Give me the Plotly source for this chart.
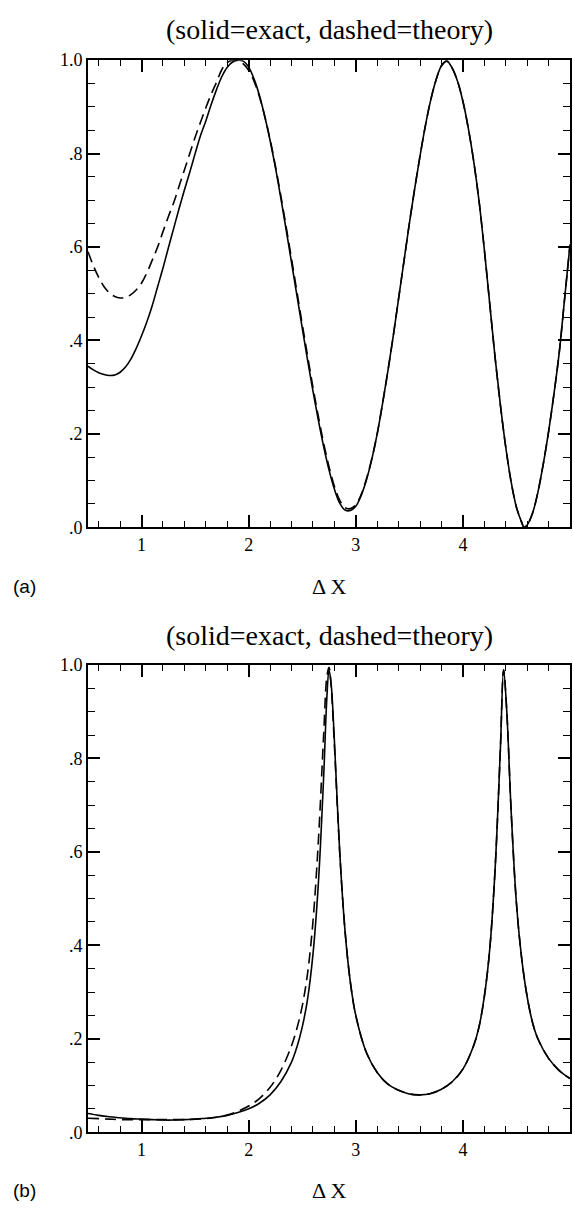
import plotly.graph_objects as go

# ---------------- panel (a) ----------------
xa_exact = [0.50, 0.55, 0.60, 0.65, 0.70, 0.75, 0.80, 0.85, 0.90, 0.95,
            1.00, 1.05, 1.10, 1.15, 1.20, 1.25, 1.30, 1.35, 1.40, 1.45,
            1.50, 1.55, 1.60, 1.65, 1.70, 1.75, 1.80, 1.85, 1.90, 1.95,
            2.00, 2.05, 2.10, 2.15, 2.20, 2.25, 2.30, 2.35, 2.40, 2.45,
            2.50, 2.55, 2.60, 2.65, 2.70, 2.75, 2.80, 2.85, 2.90, 2.95,
            3.00, 3.05, 3.10, 3.15, 3.20, 3.25, 3.30, 3.35, 3.40, 3.45,
            3.50, 3.55, 3.60, 3.65, 3.70, 3.75, 3.80, 3.85, 3.90, 3.95,
            4.00, 4.05, 4.10, 4.15, 4.20, 4.25, 4.30, 4.35, 4.40, 4.45,
            4.50, 4.55, 4.57, 4.60, 4.65, 4.70, 4.75, 4.80, 4.85, 4.90,
            4.95, 5.00]
ya_exact = [0.345, 0.337, 0.331, 0.327, 0.325, 0.326, 0.332, 0.343, 0.360, 0.383,
            0.410, 0.440, 0.475, 0.515, 0.555, 0.598, 0.640, 0.682, 0.722, 0.760,
            0.800, 0.838, 0.870, 0.905, 0.937, 0.965, 0.985, 0.996, 1.000, 0.998,
            0.985, 0.960, 0.925, 0.880, 0.828, 0.770, 0.705, 0.637, 0.567, 0.497,
            0.427, 0.358, 0.292, 0.230, 0.173, 0.123, 0.082, 0.052, 0.037, 0.036,
            0.045, 0.068, 0.102, 0.146, 0.200, 0.265, 0.335, 0.410, 0.490, 0.570,
            0.650, 0.725, 0.795, 0.860, 0.915, 0.958, 0.988, 0.998, 0.983, 0.955,
            0.912, 0.855, 0.785, 0.700, 0.595, 0.480, 0.365, 0.262, 0.172, 0.098,
            0.043, 0.010, 0.000, 0.005, 0.030, 0.075, 0.135, 0.205, 0.285, 0.375,
            0.490, 0.605]

xa_theory = list(xa_exact)
ya_theory = [0.590, 0.560, 0.535, 0.515, 0.502, 0.494, 0.491, 0.492, 0.498, 0.508,
             0.523, 0.545, 0.572, 0.600, 0.633, 0.665, 0.695, 0.730, 0.765, 0.800,
             0.835, 0.867, 0.898, 0.927, 0.953, 0.980, 0.995, 1.000, 0.999, 0.992,
             0.978, 0.955, 0.922, 0.880, 0.830, 0.773, 0.710, 0.643, 0.575, 0.505,
             0.435, 0.367, 0.300, 0.238, 0.180, 0.130, 0.088, 0.058, 0.042, 0.040,
             0.048, 0.070, 0.104, 0.147, 0.200, 0.265, 0.335, 0.410, 0.490, 0.570,
             0.650, 0.725, 0.795, 0.860, 0.915, 0.958, 0.988, 0.998, 0.983, 0.955,
             0.912, 0.855, 0.785, 0.700, 0.595, 0.480, 0.365, 0.262, 0.172, 0.098,
             0.043, 0.010, 0.000, 0.005, 0.030, 0.075, 0.135, 0.205, 0.285, 0.375,
             0.490, 0.605]

# ---------------- panel (b) ----------------
xb_exact = [0.50, 0.60, 0.70, 0.80, 0.90, 1.00, 1.10, 1.20, 1.30, 1.40,
            1.50, 1.60, 1.70, 1.80, 1.90, 2.00, 2.10, 2.20, 2.30, 2.40,
            2.45, 2.50, 2.55, 2.60, 2.65, 2.70, 2.73, 2.75, 2.77, 2.80,
            2.85, 2.90, 2.95, 3.00, 3.10, 3.20, 3.30, 3.40, 3.50, 3.60,
            3.70, 3.80, 3.90, 4.00, 4.10, 4.15, 4.20, 4.25, 4.30, 4.35,
            4.38, 4.41, 4.45, 4.50, 4.55, 4.60, 4.65, 4.70, 4.80, 4.90,
            5.00]
yb_exact = [0.040, 0.036, 0.033, 0.031, 0.029, 0.028, 0.027, 0.026, 0.026, 0.027,
            0.028, 0.030, 0.032, 0.036, 0.042, 0.050, 0.062, 0.080, 0.108, 0.150,
            0.182, 0.225, 0.285, 0.380, 0.530, 0.760, 0.930, 0.990, 0.960, 0.840,
            0.600, 0.430, 0.320, 0.250, 0.170, 0.128, 0.103, 0.090, 0.082, 0.080,
            0.083, 0.092, 0.108, 0.135, 0.185, 0.225, 0.290, 0.390, 0.560, 0.820,
            0.990, 0.900, 0.690, 0.490, 0.370, 0.290, 0.235, 0.200, 0.158, 0.132,
            0.115]

xb_theory = list(xb_exact)
yb_theory = [0.030, 0.029, 0.028, 0.027, 0.027, 0.027, 0.027, 0.027, 0.027, 0.027,
             0.028, 0.029, 0.032, 0.037, 0.045, 0.056, 0.072, 0.096, 0.132, 0.185,
             0.222, 0.270, 0.340, 0.450, 0.620, 0.850, 0.975, 0.995, 0.955, 0.830,
             0.600, 0.430, 0.320, 0.250, 0.170, 0.128, 0.103, 0.090, 0.082, 0.080,
             0.083, 0.092, 0.108, 0.135, 0.185, 0.225, 0.290, 0.390, 0.560, 0.820,
             0.990, 0.900, 0.690, 0.490, 0.370, 0.290, 0.235, 0.200, 0.158, 0.132,
             0.115]

x_tickvals = [1, 2, 3, 4, 5]
x_ticktext = ["1", "2", "3", "4", "5"]
y_tickvals = [0.0, 0.2, 0.4, 0.6, 0.8, 1.0]
y_ticktext = [".0", ".2", ".4", ".6", ".8", "1.0"]

W, H = 573, 1215
SERIF = "Liberation Serif, Times New Roman, serif"
SANS = "Liberation Sans, Arial, sans-serif"

# panel placement in pixels
X0, X1 = 88, 570
PANELS = [(51, 526), (666, 1141)]


def ydom(top, bottom):
    return [1 - bottom / H, 1 - top / H]


fig = go.Figure()

line_solid = dict(color="black", width=1.6)
line_dash = dict(color="black", width=1.6, dash="11px,6px")

fig.add_trace(go.Scatter(x=xa_theory, y=ya_theory, mode="lines", line=line_dash,
                         line_shape="spline", xaxis="x", yaxis="y", showlegend=False))
fig.add_trace(go.Scatter(x=xa_exact, y=ya_exact, mode="lines", line=line_solid,
                         line_shape="spline", xaxis="x", yaxis="y", showlegend=False))
fig.add_trace(go.Scatter(x=xb_theory, y=yb_theory, mode="lines", line=line_dash,
                         line_shape="spline", xaxis="x2", yaxis="y2", showlegend=False))
fig.add_trace(go.Scatter(x=xb_exact, y=yb_exact, mode="lines", line=line_solid,
                         line_shape="spline", xaxis="x2", yaxis="y2", showlegend=False))

xaxis_common = dict(
    range=[0.5, 5.0], domain=[X0 / W, X1 / W],
    tickvals=x_tickvals, ticktext=x_ticktext,
    ticks="inside", ticklen=12, tickwidth=1.5, tickcolor="black",
    minor=dict(dtick=0.2, tick0=0, ticks="inside", ticklen=6, tickwidth=1.2, tickcolor="black"),
    showline=True, linecolor="black", linewidth=2, mirror="allticks",
    showgrid=False, zeroline=False,
    tickfont=dict(family=SERIF, size=18, color="black"),
)
yaxis_common = dict(
    range=[0, 1.0],
    tickvals=y_tickvals, ticktext=y_ticktext,
    ticks="inside", ticklen=12, tickwidth=1.5, tickcolor="black",
    minor=dict(dtick=0.05, tick0=0, ticks="inside", ticklen=7, tickwidth=1.2, tickcolor="black"),
    showline=True, linecolor="black", linewidth=2, mirror="allticks",
    showgrid=False, zeroline=False,
    tickfont=dict(family=SERIF, size=18, color="black"),
)

fig.update_layout(
    width=W, height=H,
    margin=dict(l=0, r=0, t=0, b=0),
    paper_bgcolor="white", plot_bgcolor="white",
    xaxis=dict(**xaxis_common, anchor="y"),
    yaxis=dict(**yaxis_common, domain=ydom(*PANELS[0]), anchor="x"),
    xaxis2=dict(**xaxis_common, anchor="y2"),
    yaxis2=dict(**yaxis_common, domain=ydom(*PANELS[1]), anchor="x2"),
)

xc = (X0 + X1) / 2 / W
title = "(solid=exact, dashed=theory)"
annotations = [
    (xc, 20, title, SERIF, 28),
    (xc, 586, "Δ X", SERIF, 22),
    (24 / W, 586, "(a)", SANS, 19),
    (xc, 636, title, SERIF, 28),
    (xc, 1200, "Δ X", SERIF, 22),
    (24 / W, 1200, "(b)", SANS, 19),
]
for x, ypix, text, fam, size in annotations:
    fig.add_annotation(x=x, y=1 - ypix / H, xref="paper", yref="paper",
                       text=text, showarrow=False, xanchor="center", yanchor="middle",
                       font=dict(family=fam, size=size, color="black"))

fig.write_html("out.html")
